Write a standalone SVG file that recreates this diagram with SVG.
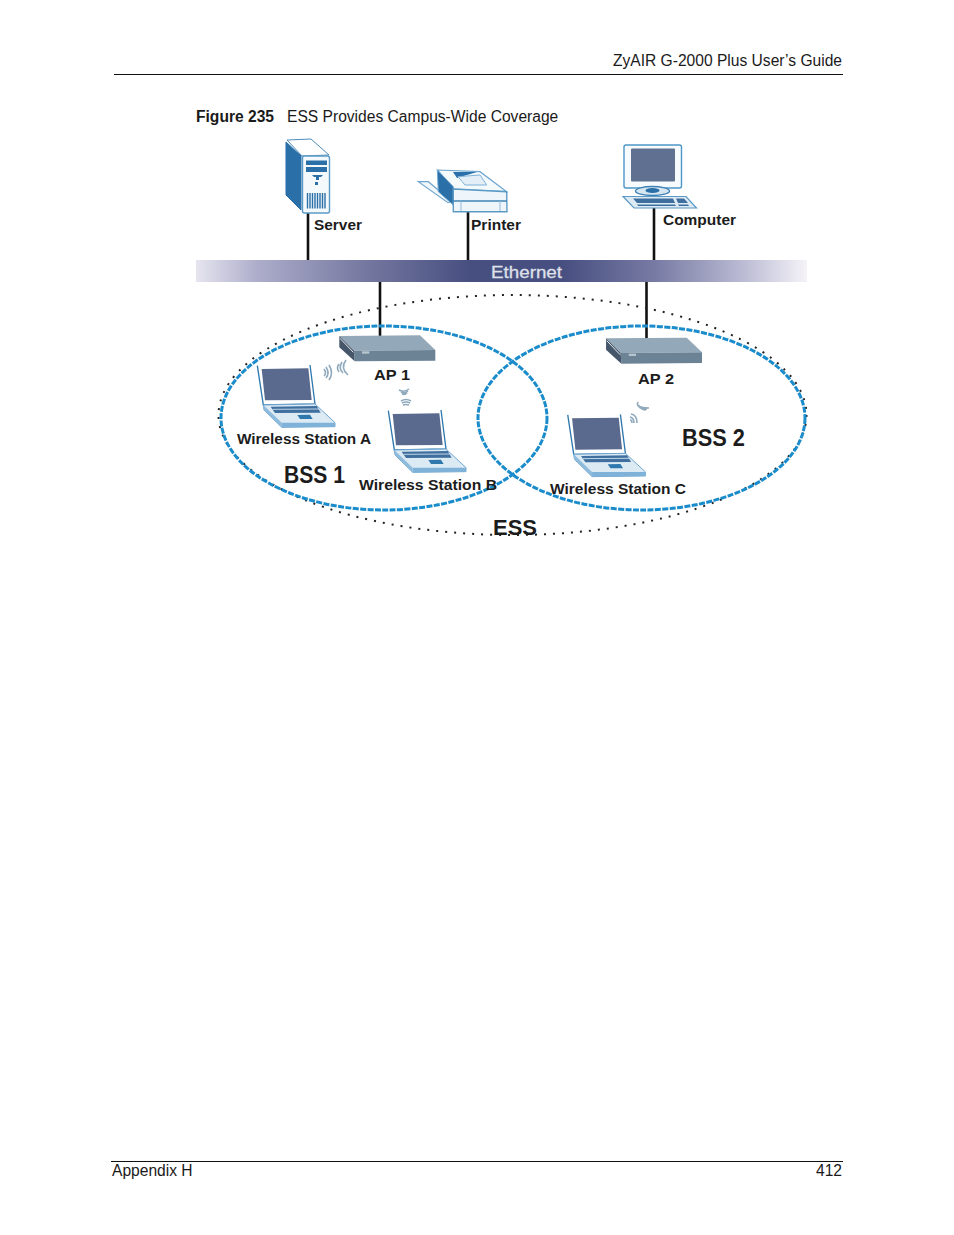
<svg xmlns="http://www.w3.org/2000/svg" width="954" height="1235" viewBox="0 0 954 1235">
<style>
.page{font-family:"Liberation Sans",Arial,sans-serif;font-size:15.6px;fill:#1a1a1a}
.lab{font-family:"Liberation Sans",Arial,sans-serif;font-weight:700;fill:#1c1c1c}
.wire{stroke:#111;stroke-width:2.6;fill:none}
.bss{fill:none;stroke:#1b8ccb;stroke-width:3;stroke-dasharray:6 1.4}
.ess{fill:none;stroke:#222;stroke-width:2;stroke-dasharray:2 7}
.rule{stroke:#111;stroke-width:1}
.arc{fill:none;stroke:#8fa9bd;stroke-width:1.6}
</style>
<defs>
<linearGradient id="bar" x1="0" x2="1" y1="0" y2="0">
<stop offset="0" stop-color="#e6e5ef"/><stop offset=".1" stop-color="#adadcb"/><stop offset=".28" stop-color="#74779f"/><stop offset=".45" stop-color="#474f80"/><stop offset=".6" stop-color="#474f80"/><stop offset=".75" stop-color="#777aa3"/><stop offset=".9" stop-color="#bdbdd5"/><stop offset="1" stop-color="#f5f3f8"/>
</linearGradient>
<g id="laptop" transform="scale(.33333)">
<path d="M172 137L190 255L345 252L330 135" fill="#fff" stroke="#2f78ae" stroke-width="4"/>
<path d="M185 147L325 145L335 240L195 241Z" fill="#5a6a8e"/>
<path d="M190 255L345 252L405 308L405 320L245 322L192 270Z" fill="#dceaf4" stroke="#6fa6cf" stroke-width="3"/>
<path d="M212 260L350 258L362 278L225 279Z" fill="#3f6f9f"/>
<path d="M218 268L356 267" stroke="#dceaf4" stroke-width="2.500"/>
<path d="M292 285L330 284L338 297L300 297Z" fill="#2f78ae"/>
<path d="M245 308L405 308L405 320L245 322Z" fill="#7fb2d9"/>
<path d="M192 270L245 322L245 308L190 255Z" fill="#8fbbdc"/>
</g>
<g id="ap" transform="scale(.33333)">
<path d="M418 48L660 46L706 90L462 92Z" fill="#93a8b9"/>
<path d="M462 92L706 90L706 122L464 124Z" fill="#6c8396"/>
<path d="M418 48L462 92L464 124L418 82Z" fill="#46566a"/>
<path d="M420 55L460 97" stroke="#e6ecf0" stroke-width="3"/>
<path d="M486 94h22v7h-22z" fill="#b8c6d0"/>
</g>
</defs>
<rect width="954" height="1235" fill="#fff"/>

<g id="page-header">
<text class="page" x="842" y="66" text-anchor="end">ZyAIR G-2000 Plus User’s Guide</text>
<line class="rule" x1="114" y1="74.500" x2="843" y2="74.500"/>
<text class="page" x="196" y="122"><tspan font-weight="700">Figure 235</tspan><tspan x="287">ESS Provides Campus-Wide Coverage</tspan></text>
</g>

<g id="connectors">
<line class="wire" x1="308" y1="212" x2="308" y2="260"/>
<line class="wire" x1="468" y1="212" x2="468" y2="260"/>
<line class="wire" x1="654" y1="208" x2="654" y2="260"/>
<line class="wire" x1="380" y1="282" x2="380" y2="336"/>
<line class="wire" x1="646.500" y1="282" x2="646.500" y2="338"/>
</g>

<g id="ess">
<ellipse class="ess" cx="512.500" cy="415" rx="294" ry="120"/>
<text class="lab" x="493" y="535" font-size="22" textLength="44" lengthAdjust="spacingAndGlyphs">ESS</text>
</g>
<g id="bss1">
<ellipse class="bss" cx="384" cy="418" rx="163" ry="92"/>
<text class="lab" x="284" y="483" font-size="23" textLength="61" lengthAdjust="spacingAndGlyphs">BSS 1</text>
</g>
<g id="bss2">
<ellipse class="bss" cx="641.500" cy="418" rx="163.500" ry="92"/>
<text class="lab" x="682" y="446" font-size="23" textLength="63" lengthAdjust="spacingAndGlyphs">BSS 2</text>
</g>

<g id="ethernet">
<rect x="196" y="260" width="611" height="22" fill="url(#bar)"/>
<text x="491" y="278" font-family="'Liberation Sans',Arial,sans-serif" font-size="17" fill="#dfe0ea" stroke="#dfe0ea" stroke-width=".3" textLength="71" lengthAdjust="spacingAndGlyphs">Ethernet</text>
</g>

<g id="server">
<path d="M286 142L301 156L301 210L286 195Z" fill="#2a6fa8" stroke="#2a6fa8"/>
<path d="M287 140L311 139L329 155L302 156Z" fill="#fff" stroke="#4d8dbb"/>
<rect x="302.500" y="156" width="27" height="57" rx="2" fill="#f4f9fc" stroke="#5c9ac6" stroke-width="1.400"/>
<path d="M306 160.500h21v4.500h-21zM306 167h21v5h-21z" fill="#2a6fa8"/>
<path d="M312 175h11l-2 2h-2v3h-3v-3h-2z" fill="#2a6fa8"/>
<rect x="315" y="182" width="3" height="3" fill="#2a6fa8"/>
<path d="M307.500 193v15.500M310 193v15.500M312.500 193v15.500M315 193v15.500M317.500 193v15.500M320 193v15.500M322.500 193v15.500M325 193v15.500" stroke="#2a6fa8" stroke-width="1.400"/>
<text class="lab" x="314" y="230" font-size="14.500" textLength="48" lengthAdjust="spacingAndGlyphs">Server</text>
</g>

<g id="printer">
<path d="M418.300 181.700L428.300 181.700L452 201.500L448 202.700Z" fill="#f2f7fb" stroke="#6fa6cf" stroke-width="1.200"/>
<path d="M437.300 170L480 171.700L506.700 191.700L453.300 189Z" fill="#f4f9fc" stroke="#6fa6cf" stroke-width="1.200"/>
<path d="M437.300 170L453.300 186.700L453.300 205L438.300 191.700Z" fill="#2a6fa8" stroke="#6fa6cf"/>
<path d="M453 172L477 172L457 178Z" fill="#2a6fa8"/>
<path d="M458 176.700L480 175L486.700 185L465 185Z" fill="#e3eef6" stroke="#7fb2d9"/>
<path d="M453.300 189L506.700 191.700L507 211.700L453.300 211.700Z" fill="#eff6fb" stroke="#5c9ac6" stroke-width="1.400"/>
<path d="M453 201H507" stroke="#3f83b6" stroke-width="1.400"/>
<path d="M461 201V211M500 201V211" stroke="#8fbbdc"/>
<text class="lab" x="471" y="230" font-size="14.500" textLength="50" lengthAdjust="spacingAndGlyphs">Printer</text>
</g>

<g id="computer">
<rect x="624" y="145" width="57.500" height="43" rx="2" fill="#f7fbfd" stroke="#4d96c8" stroke-width="1.400"/>
<rect x="631" y="148.500" width="44" height="33" rx="1" fill="#5f7090"/>
<ellipse cx="652.500" cy="191" rx="17" ry="4.500" fill="#d7e7f2" stroke="#3f83b6" stroke-width="1.400"/>
<ellipse cx="652.500" cy="190.500" rx="7" ry="2.500" fill="#2a6fa8"/>
<path d="M623 196.500H686L696.500 208H634Z" fill="#dceaf4" stroke="#5c9ac6" stroke-width="1.200"/>
<path d="M633 198.500H673L675 203H637ZM676 198.500H684L688 203H678Z" fill="#3f6f9f"/>
<path d="M637 204.500H675L676 206H638ZM678 204.500H688L689 206H679Z" fill="#3f6f9f"/>
<text class="lab" x="663" y="225" font-size="14.500" textLength="73" lengthAdjust="spacingAndGlyphs">Computer</text>
</g>

<g id="ap1">
<use href="#ap" transform="translate(200 320)"/>
<text class="lab" x="374" y="380" font-size="14.500" textLength="36" lengthAdjust="spacingAndGlyphs">AP 1</text>
</g>
<g id="ap2">
<use href="#ap" transform="translate(466.700 322.300)"/>
<text class="lab" x="638" y="384" font-size="14.500" textLength="36" lengthAdjust="spacingAndGlyphs">AP 2</text>
</g>

<g id="wireless-station-a">
<use href="#laptop" transform="translate(200 320)"/>
<path class="arc" d="M324 369q3 4 0 7M326 367q4 6 0 11M329 365q5 8 0 15M339 364q-3 4 0 8M342 362q-4 6 1 11M346 360q-6 8 2 15"/>
<text class="lab" x="237" y="444" font-size="14.500" textLength="134" lengthAdjust="spacingAndGlyphs">Wireless Station A</text>
</g>
<g id="wireless-station-b">
<use href="#laptop" transform="translate(331 365)"/>
<path class="arc" d="M399 390q5 3 10 -1M401 392q4 2 7 -1M402 394q3 1 5 -1M401 401q5-3 10 0M402 403q4-2 8 0M403 405q3-1 6 0"/>
<text class="lab" x="359" y="490" font-size="14.500" textLength="138" lengthAdjust="spacingAndGlyphs">Wireless Station B</text>
</g>
<g id="wireless-station-c">
<use href="#laptop" transform="translate(510.400 369.300)"/>
<path class="arc" d="M638 402q-3 6 11 6M639 405q-1 4 8 4M641 408q1 2 5 2M631 414q6 1 6 9M630 417q4 1 4 6M630 420q2 0 2 3"/>
<text class="lab" x="550" y="494" font-size="14.500" textLength="136" lengthAdjust="spacingAndGlyphs">Wireless Station C</text>
</g>

<g id="page-footer">
<line class="rule" x1="111" y1="1161.500" x2="843" y2="1161.500"/>
<text class="page" x="112" y="1176">Appendix H</text>
<text class="page" x="842" y="1176" text-anchor="end">412</text>
</g>
</svg>
